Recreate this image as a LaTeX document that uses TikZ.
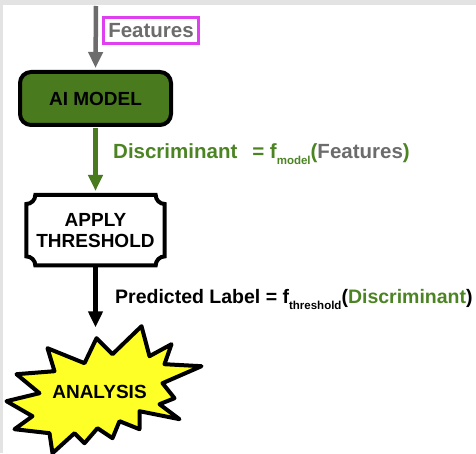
\documentclass[tikz,border=0pt]{standalone}
\usepackage{fontspec}
\setmainfont{Liberation Sans}
\usepackage{tikz}
\usetikzlibrary{arrows.meta, positioning, calc}
\definecolor{modelgreen}{RGB}{74, 122, 30}
\definecolor{labelgreen}{RGB}{76, 132, 36}
\definecolor{featgray}{RGB}{108, 108, 108}
\definecolor{featpink}{RGB}{222, 64, 240}
\definecolor{bggray}{RGB}{227, 227, 227}
\definecolor{burstyellow}{RGB}{255, 255, 40}
\newcommand{\lowtext}[1]{\raisebox{-6pt}{\fontsize{11.5}{12}\selectfont #1}}

\begin{document}
\begin{tikzpicture}[x=1pt, y=1pt,
    boxtext/.style={font=\fontsize{19}{21}\selectfont\bfseries, align=center},
    flow/.style={line width=4.5pt, -{Triangle[length=16pt, width=14pt]}},
    label/.style={font=\fontsize{19.5}{21}\selectfont\bfseries, anchor=base west, inner sep=0pt}]
  % page and its grey margin
  \fill[bggray] (0,0) rectangle (476,453);
  \fill[white] (3,0) rectangle (476,448);
  \useasboundingbox (0,0) rectangle (476,453);

  \node[boxtext, draw=black, line width=4pt, fill=modelgreen, rounded corners=11pt,
        minimum width=151pt, minimum height=53pt] (model) at (95.5,354.5) {AI MODEL};
  \node[boxtext, minimum width=138pt, minimum height=70pt, below=68pt of model] (thr) {APPLY\\THRESHOLD};

  % outline with inverted corners
  \draw[line width=4pt]
    ([xshift=9pt]thr.north west) -- ([xshift=-9pt]thr.north east)
    arc[start angle=180, end angle=270, radius=9pt] -- ([yshift=9pt]thr.south east)
    arc[start angle=90, end angle=180, radius=9pt] -- ([xshift=9pt]thr.south west)
    arc[start angle=0, end angle=90, radius=9pt] -- ([yshift=-9pt]thr.north west)
    arc[start angle=270, end angle=360, radius=9pt] -- cycle;

  % starburst
  \coordinate (burst) at ($(thr.center)+(4,-162)$);
  \begin{scope}[shift={(burst)}]
    \draw[line width=4pt, line join=round, fill=burstyellow]
      (-3,54) -- (13,38) -- (42,66) -- (50,36) -- (72,48) -- (65,28) -- (102,26)
      -- (63,9) -- (75,-6) -- (60,-12) -- (80,-27) -- (40,-19) -- (40,-37)
      -- (20,-29) -- (13,-46) -- (-2,-36) -- (-15,-51) -- (-25,-41) -- (-47,-61)
      -- (-50,-41) -- (-85,-37) -- (-67,-24) -- (-93,-9) -- (-60,-1) -- (-83,18)
      -- (-45,21) -- (-52,44) -- (-15,29) -- cycle;
  \end{scope}
  \node[boxtext, inner sep=0pt] (an) at (burst) {ANALYSIS};

  \node[draw=featpink, line width=3pt, text=featgray, font=\fontsize{20.5}{21}\selectfont\bfseries,
        minimum width=95pt, minimum height=26pt, inner sep=1pt] (feat) at (151,422.5) {Features};

  \coordinate (in) at (96,447);
  \coordinate (antip) at ($(thr.south)+(0,-62)$);

  \draw[flow, featgray] (in) -- ([yshift=2pt]model.north);
  \draw[flow, modelgreen, shorten <=1pt] (model.south) -- ([yshift=4pt]thr.north);
  \draw[flow, black] (thr.south) -- (antip);

  \node[label, text=labelgreen, font=\fontsize{20.5}{21}\selectfont\bfseries] (disc) at (113,294)
    {Discriminant\hspace{0.45em} = f\lowtext{model}(\textcolor{featgray}{Features})};
  \node[label] (pred) at (115,150)
    {Predicted Label = f\lowtext{threshold}(\textcolor{labelgreen}{Discriminant})};
\end{tikzpicture}
\end{document}
